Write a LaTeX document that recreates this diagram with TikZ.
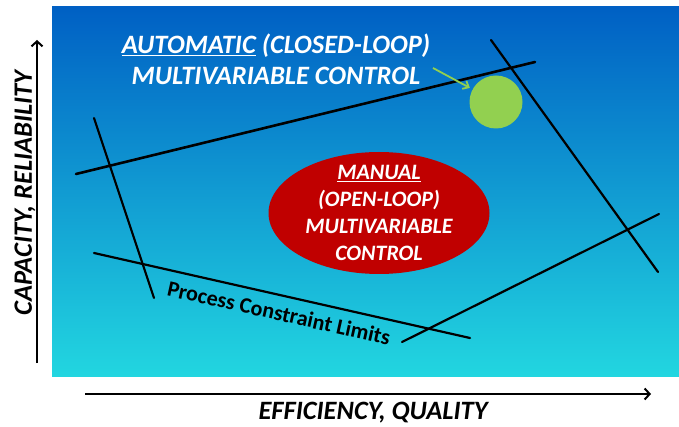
\documentclass[tikz,border=0pt]{standalone}
\usepackage{fontspec}
\setmainfont{Carlito}
\usetikzlibrary{arrows.meta,shapes.geometric}
\definecolor{skytop}{RGB}{0,96,196}
\definecolor{skymid}{RGB}{12,148,226}
\definecolor{skybot}{RGB}{34,214,224}
\definecolor{leaf}{RGB}{146,208,80}
\definecolor{brick}{RGB}{192,0,0}
\begin{document}
\begin{tikzpicture}[x=1pt,y=-1pt,
  limit/.style={line width=2.2pt, black, line cap=round},
  axis/.style={line width=2pt, black, -{Straight Barb[length=5pt,width=11pt,line width=2pt]}},
  bigtext/.style={font=\fontsize{26.5}{31}\selectfont\bfseries\itshape, inner sep=0pt},
  whitetext/.style={text=white, align=center},
  pointer/.style={leaf, line width=1.8pt, -{Straight Barb[length=5pt,width=9pt,line width=1.8pt]}, shorten >=3pt}]
\useasboundingbox (0,0) rectangle (679,427);

% operating region backdrop
\shade[top color=skytop, middle color=skymid, bottom color=skybot] (52,7) rectangle (679,376);

% axes
\coordinate (yfoot) at (37,363);
\coordinate (yhead) at (37,40);
\coordinate (xfoot) at (85,394);
\coordinate (xhead) at (651,394);
\draw[axis] (yfoot) -- (yhead);
\draw[axis] (xfoot) -- (xhead);
\node[bigtext, rotate=90] (ylabel) at (25,193) {CAPACITY, RELIABILITY};
\node[bigtext] (xlabel) at (373,413) {EFFICIENCY, QUALITY};

% constraint limit lines
\coordinate (topA) at (76,174);
\coordinate (topB) at (535,62);
\coordinate (rightA) at (491,40);
\coordinate (rightB) at (658,272);
\coordinate (leftA) at (94,118);
\coordinate (leftB) at (154,298);
\coordinate (lowA) at (94,253);
\coordinate (lowB) at (470,338);
\coordinate (brA) at (402,342);
\coordinate (brB) at (659,214);
\draw[limit, line width=2.6pt] (topA) -- (topB);
\draw[limit] (rightA) -- (rightB);
\draw[limit] (leftA) -- (leftB);
\draw[limit] (lowA) -- (lowB);
\draw[limit] (brA) -- (brB);

\node[font=\fontsize{22}{26}\selectfont\bfseries, rotate=-12.5, inner sep=0pt] (limits) at (279,313) {Process Constraint Limits};

% manual operating point
\node[ellipse, fill=brick, minimum width=221pt, minimum height=122pt, inner sep=0pt] (manual) at (379,213) {};
\node[whitetext, font=\fontsize{22}{27}\selectfont\bfseries\itshape, inner sep=0pt] (manualtext) at (manual.center)
  {\underline{MANUAL}\\(OPEN-LOOP)\\MULTIVARIABLE\\CONTROL};

% automatic operating point
\node[circle, fill=leaf, minimum size=53pt, inner sep=0pt] (auto) at (496,102) {};
\node[bigtext, whitetext] (autotext) at (276,59)
  {\underline{AUTOMATIC} (CLOSED-LOOP)\\MULTIVARIABLE CONTROL};
\coordinate (ptr) at (433,68);
\draw[pointer] (ptr) -- (auto);
\end{tikzpicture}
\end{document}
